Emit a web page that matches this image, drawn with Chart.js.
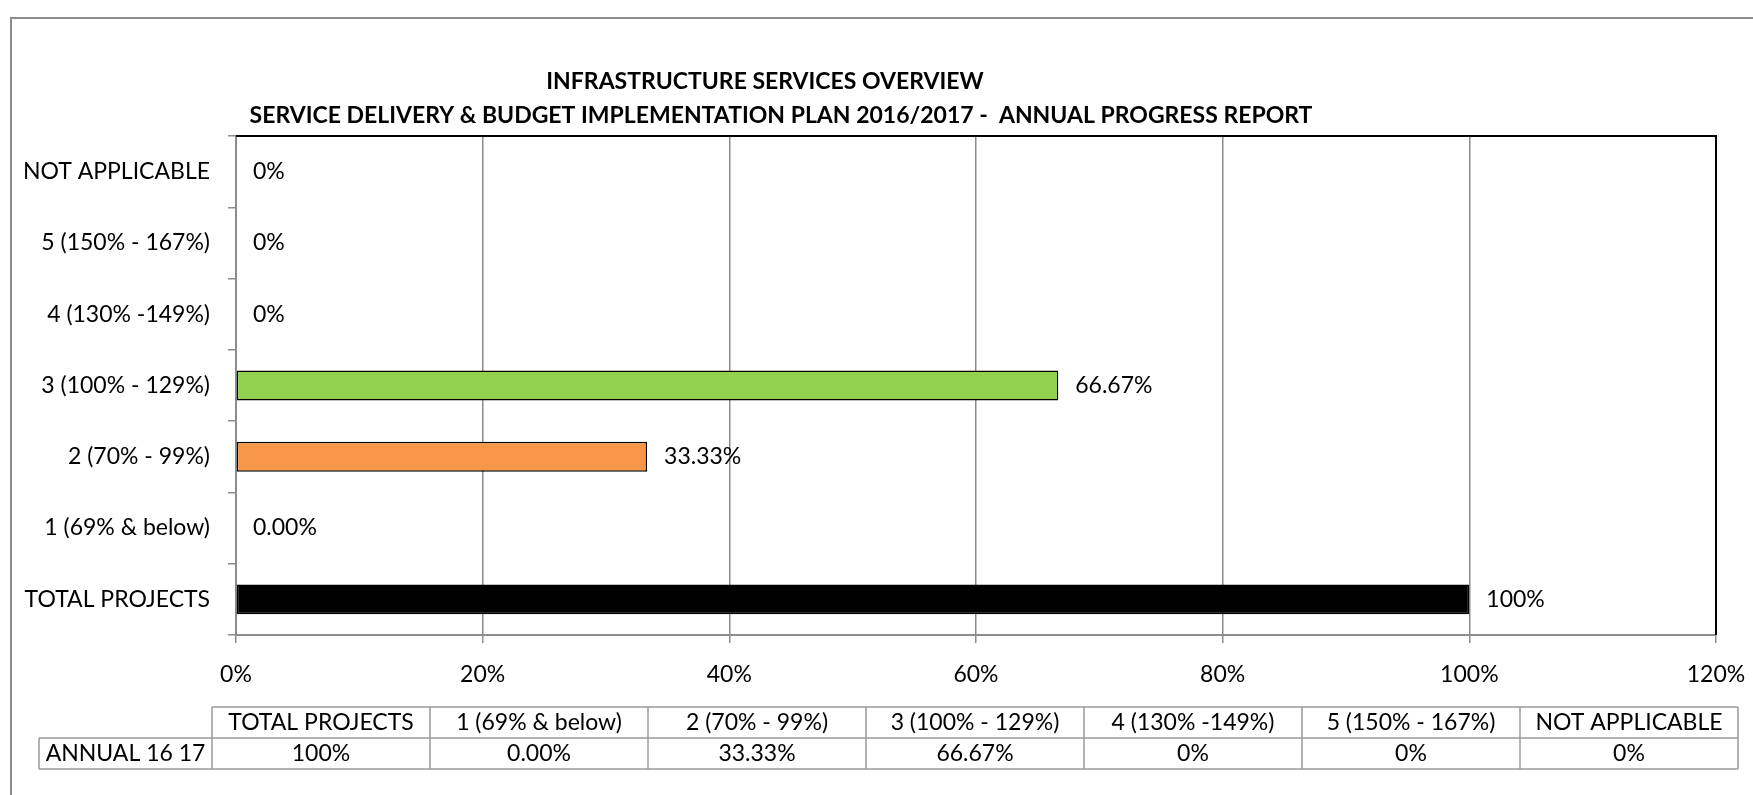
<!DOCTYPE html>
<html>
<head>
<meta charset="utf-8">
<script src="https://cdn.jsdelivr.net/npm/chart.js@4"></script>
<style>
  html, body { margin: 0; padding: 0; background: #fff; }
  #wrap { width: 1753px; height: 795px; position: relative; }
</style>
</head>
<body>
<div id="wrap"><canvas id="bar-chart" width="1753" height="795"></canvas></div>
<script>
// data, in the order of the data table (bottom bar first)
var categories = ["TOTAL PROJECTS", "1 (69% & below)", "2 (70% - 99%)", "3 (100% - 129%)",
                  "4 (130% -149%)", "5 (150% - 167%)", "NOT APPLICABLE"];
var annualValues = [100, 0, 33.33, 66.67, 0, 0, 0];
var annualLabels = ["100%", "0.00%", "33.33%", "66.67%", "0%", "0%", "0%"];
var seriesName = "ANNUAL 16 17";
var xTicks = [0, 20, 40, 60, 80, 100, 120];
var titleLines = ["INFRASTRUCTURE SERVICES OVERVIEW",
                  "SERVICE DELIVERY & BUDGET IMPLEMENTATION PLAN 2016/2017 -  ANNUAL PROGRESS REPORT"];

var FONT = "Lato, 'Open Sans', sans-serif";

// frame, title, plot border, bar labels and the data table
var extras = {
  id: "extras",
  beforeDraw: function(chart) {
    var ctx = chart.ctx;
    ctx.save();
    ctx.fillStyle = "#fff";
    ctx.fillRect(0, 0, chart.width, chart.height);
    ctx.strokeStyle = "#8c8c8c";
    ctx.lineWidth = 2;
    ctx.beginPath();
    ctx.moveTo(11, chart.height);
    ctx.lineTo(11, 18);
    ctx.lineTo(chart.width, 18);
    ctx.stroke();

    ctx.fillStyle = "#000";
    ctx.font = "bold 23px " + FONT;
    ctx.textAlign = "center";
    ctx.textBaseline = "middle";
    ctx.fillText(titleLines[0], 765, 82);
    ctx.fillText(titleLines[1], 781, 116);
    ctx.restore();
  },
  afterDatasetsDraw: function(chart) {
    var ctx = chart.ctx;
    var area = chart.chartArea;
    ctx.save();
    ctx.font = "23px " + FONT;
    ctx.fillStyle = "#000";
    ctx.textAlign = "left";
    ctx.textBaseline = "middle";
    chart.getDatasetMeta(0).data.forEach(function(bar, i) {
      ctx.fillText(annualLabels[i], bar.x + 17, bar.y);
    });
    ctx.strokeStyle = "#000";
    ctx.lineWidth = 2;
    ctx.beginPath();
    ctx.moveTo(area.left, area.top);
    ctx.lineTo(area.right, area.top);
    ctx.lineTo(area.right, area.bottom);
    ctx.stroke();
    ctx.restore();
  },
  afterDraw: function(chart) {
    var ctx = chart.ctx;
    var left = 212, colW = 218, labelLeft = 39;
    var top = 707, rowH = 31;
    var right = left + colW * categories.length;
    ctx.save();
    ctx.strokeStyle = "#9a9a9a";
    ctx.lineWidth = 1.5;
    ctx.beginPath();
    ctx.moveTo(left, top); ctx.lineTo(right, top);
    ctx.moveTo(labelLeft, top + rowH); ctx.lineTo(right, top + rowH);
    ctx.moveTo(labelLeft, top + 2 * rowH); ctx.lineTo(right, top + 2 * rowH);
    ctx.moveTo(labelLeft, top + rowH); ctx.lineTo(labelLeft, top + 2 * rowH);
    for (var c = 0; c <= categories.length; c++) {
      ctx.moveTo(left + c * colW, top);
      ctx.lineTo(left + c * colW, top + 2 * rowH);
    }
    ctx.stroke();
    ctx.font = "23px " + FONT;
    ctx.fillStyle = "#000";
    ctx.textAlign = "center";
    ctx.textBaseline = "middle";
    ctx.fillText(seriesName, (labelLeft + left) / 2, top + rowH * 1.5);
    categories.forEach(function(cat, i) {
      var cx = left + colW * (i + 0.5);
      ctx.fillText(cat, cx, top + rowH * 0.5);
      ctx.fillText(annualLabels[i], cx, top + rowH * 1.5);
    });
    ctx.restore();
  }
};

new Chart(document.getElementById("bar-chart"), {
  type: "bar",
  data: {
    labels: categories,
    datasets: [{
      label: seriesName,
      data: annualValues,
      backgroundColor: ["#000000", "#ffffff", "#F79646", "#92D050", "#ffffff", "#ffffff", "#ffffff"],
      borderColor: "#000000",
      borderWidth: function(c) { return c.raw > 0 ? 1.5 : 0; },
      borderSkipped: false,
      barPercentage: 0.42,
      categoryPercentage: 1
    }]
  },
  options: {
    indexAxis: "y",
    responsive: false,
    animation: false,
    layout: { padding: { left: 0, top: 136, right: 37, bottom: 0 } },
    plugins: {
      legend: { display: false },
      tooltip: { enabled: false },
      title: { display: false }
    },
    scales: {
      x: {
        min: 0,
        max: 120,
        afterBuildTicks: function(axis) {
          axis.ticks = xTicks.map(function(v) { return { value: v }; });
        },
        ticks: {
          callback: function(v) { return v + "%"; },
          color: "#000",
          font: { family: FONT, size: 23 },
          padding: 18,
          maxRotation: 0
        },
        grid: { color: "#8c8c8c", lineWidth: 1.5, tickLength: 8, drawTicks: true },
        border: { display: true, color: "#8c8c8c", width: 2 },
        afterFit: function(axis) {
          axis.height = 160;
          axis.paddingLeft = 0;
          axis.paddingRight = 0;
        }
      },
      y: {
        reverse: true,
        ticks: {
          color: "#000",
          font: { family: FONT, size: 23 },
          padding: 18
        },
        grid: { offset: true, drawOnChartArea: false, drawTicks: true, tickLength: 8, color: "#8c8c8c", lineWidth: 1.5 },
        border: { display: true, color: "#8c8c8c", width: 2 },
        afterFit: function(axis) {
          axis.width = 236;
          axis.paddingTop = 0;
          axis.paddingBottom = 0;
        }
      }
    }
  },
  plugins: [extras]
});
</script>
</body>
</html>
